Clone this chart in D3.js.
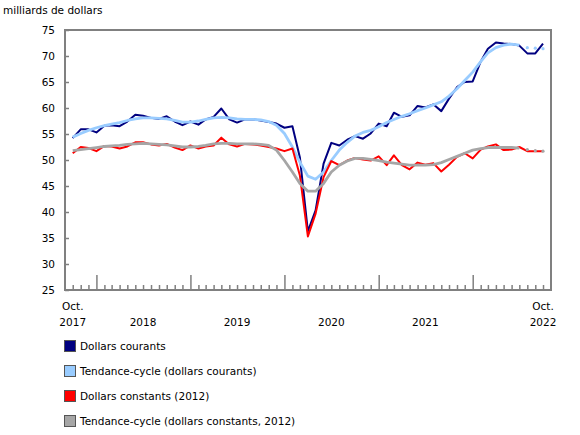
<!DOCTYPE html>
<html>
<head>
<meta charset="utf-8">
<script src="https://cdn.jsdelivr.net/npm/d3@7"></script>
<style>
	body { margin: 0; background: #fff; }
	text { font-family: "DejaVu Sans", Verdana, sans-serif; font-size: 10.5px; fill: #000; }
</style>
</head>
<body>
<div id="chart"></div>
<script>
// monthly values, Oct. 2017 -> Oct. 2022 (billions of dollars)
const courants = [
	54.2, 55.9, 55.9, 55.3, 56.6, 56.7, 56.5, 57.4, 58.7, 58.5, 58.1, 57.9,
	58.4, 57.4, 56.7, 57.4, 56.8, 57.8, 58.3, 59.9, 57.8, 57.2, 57.8, 57.8,
	57.6, 57.3, 57.0, 56.2, 56.5, 50.5, 36.3, 40.3, 49.3, 53.3, 52.8, 53.9,
	54.6, 54.1, 55.1, 57.0, 56.5, 59.1, 58.3, 58.6, 60.4, 60.1, 60.7, 59.4,
	61.8, 64.0, 65.0, 65.1, 68.9, 71.4, 72.6, 72.4, 72.3, 72.0, 70.5, 70.5,
	72.4
]
const tendanceCourants = [
	54.4, 55.1, 55.7, 56.2, 56.6, 56.9, 57.2, 57.6, 57.9, 58.1, 58.1, 58.0,
	57.9, 57.6, 57.3, 57.3, 57.5, 57.8, 58.1, 58.2, 58.1, 57.9, 57.8, 57.8,
	57.7, 57.4, 56.7, 55.1, 52.5, 49.6, 46.9, 46.3, 47.7, 49.9, 51.9, 53.4,
	54.6, 55.3, 55.7, 56.4, 57.2, 57.8, 58.4, 58.9, 59.5, 60.0, 60.6, 61.2,
	62.3, 63.7, 65.3, 66.9, 68.9, 70.6, 71.6, 72.1, 72.3, 72.1, 71.6, 71.5,
	71.4
]
const constants = [
	51.3, 52.5, 52.3, 51.7, 52.7, 52.6, 52.2, 52.6, 53.4, 53.4, 53.0, 52.8,
	53.1, 52.4, 51.9, 52.8, 52.2, 52.6, 52.8, 54.3, 53.0, 52.6, 53.1, 53.0,
	52.8, 52.5, 52.2, 51.7, 52.2, 47.0, 35.3, 39.7, 46.7, 49.8, 49.0, 49.9,
	50.4, 50.1, 49.9, 50.7, 49.0, 50.9, 49.0, 48.2, 49.5, 49.1, 49.4, 47.8,
	49.1, 50.6, 51.3, 50.3, 52.0, 52.6, 53.0, 51.9, 52.0, 52.5, 51.7, 51.7,
	51.7
]
const tendanceConstants = [
	51.8, 52.0, 52.2, 52.4, 52.6, 52.7, 52.8, 53.0, 53.1, 53.2, 53.1, 53.0,
	52.9, 52.7, 52.5, 52.5, 52.6, 52.8, 53.1, 53.2, 53.2, 53.1, 53.1, 53.1,
	53.0, 52.8, 51.9, 49.9, 47.7, 45.5, 44.0, 44.0, 45.5, 47.7, 49.0, 49.8,
	50.3, 50.3, 50.1, 49.9, 49.6, 49.4, 49.2, 49.0, 49.0, 49.0, 49.1, 49.5,
	50.1, 50.7, 51.3, 51.9, 52.2, 52.4, 52.4, 52.4, 52.4, 52.3, 52.0, 51.8,
	51.7
]
const seriesNames = [
	"Dollars courants",
	"Tendance-cycle (dollars courants)",
	"Dollars constants (2012)",
	"Tendance-cycle (dollars constants, 2012)"
]
const seriesColors = ["#000080", "#99ccff", "#ff0000", "#a6a6a6"]
const trendTail = 3	// last trend months drawn dotted
const yTicks = [25, 30, 35, 40, 45, 50, 55, 60, 65, 70, 75]
const xLabels = [
	{date: "2017-10", lines: ["Oct.", "2017"]},
	{date: "2018-07", lines: ["2018"]},
	{date: "2019-07", lines: ["2019"]},
	{date: "2020-07", lines: ["2020"]},
	{date: "2021-07", lines: ["2021"]},
	{date: "2022-10", lines: ["Oct.", "2022"]}
]
const unitLabel = "milliards de dollars"

let dims = {width: 580, height: 435, left: 65, right: 551, top: 30, bottom: 290}
let parseMonth = d3.timeParse("%Y-%m")
let months = d3.timeMonth.range(new Date(2017, 9, 1), new Date(2022, 10, 1))

let svg = d3.select("#chart").append("svg")
	.attr("width", dims.width)
	.attr("height", dims.height)

let xScale = d3.scaleTime()
	.domain([new Date(2017, 8, 1), new Date(2022, 10, 1)])
	.range([dims.left, dims.right])
let yScale = d3.scaleLinear().domain([25, 75]).range([dims.bottom, dims.top])

svg.append("text").attr("x", 3).attr("y", 14).text(unitLabel)

// y axis (ticks inward)
let yAxis = svg.append("g")
	.attr("transform", `translate(${dims.left},0)`)
	.call(d3.axisLeft(yScale).tickValues(yTicks).tickSizeInner(-4).tickSizeOuter(0).tickPadding(10))
yAxis.select(".domain").remove()
yAxis.selectAll("line").attr("stroke", "#808080").attr("stroke-width", 1.5)
yAxis.selectAll("text").style("font-family", null).style("font-size", null).attr("fill", "#000")

// x axis: minor ticks every month, longer at January
let xMinor = svg.append("g")
	.attr("transform", `translate(0,${dims.bottom})`)
	.call(d3.axisBottom(xScale).tickValues(months.filter(d => d.getMonth() != 0)).tickSizeInner(-5).tickSizeOuter(0).tickFormat(""))
let xMajor = svg.append("g")
	.attr("transform", `translate(0,${dims.bottom})`)
	.call(d3.axisBottom(xScale).tickValues(months.filter(d => d.getMonth() == 0)).tickSizeInner(-15).tickSizeOuter(0).tickFormat(""))
svg.selectAll(".domain").remove()
svg.selectAll("g line").attr("stroke", "#808080").attr("stroke-width", 1.5)

let lbl = svg.append("g").selectAll("text")
	.data(xLabels)
	.enter()
		.append("text")
		.attr("text-anchor", "middle")
		.attr("transform", d => `translate(${xScale(parseMonth(d.date))},${d.lines.length > 1 ? 310 : 326})`)
lbl.selectAll("tspan")
	.data(d => d.lines)
	.enter()
		.append("tspan")
		.attr("x", 0)
		.attr("dy", (d, i) => i ? 16 : 0)
		.text(d => d)

// frame
svg.append("path")
	.attr("d", `M${dims.left},${dims.top}H${dims.right}V${dims.bottom}H${dims.left}Z`)
	.attr("fill", "none")
	.attr("stroke", "#808080")
	.attr("stroke-width", 2)

let line = d3.line()
	.x((d, i) => xScale(months[i]))
	.y(d => yScale(d))

function drawSeries(values, color, width) {
	svg.append("path")
		.datum(values)
		.attr("d", line)
		.attr("fill", "none")
		.attr("stroke", color)
		.attr("stroke-width", width)
		.attr("stroke-linejoin", "round")
}

function drawTrend(values, color) {
	let cut = values.length - trendTail
	let solid = values.map((v, i) => i < cut ? v : null)
	svg.append("path")
		.datum(solid)
		.attr("d", line.defined(d => d != null))
		.attr("fill", "none")
		.attr("stroke", color)
		.attr("stroke-width", 2.8)
		.attr("stroke-linejoin", "round")
	line.defined(() => true)
	svg.append("g").selectAll("circle")
		.data(values.map((v, i) => ({v, i})).filter(d => d.i >= cut))
		.enter()
			.append("circle")
			.attr("cx", d => xScale(months[d.i]))
			.attr("cy", d => yScale(d.v))
			.attr("r", 1.6)
			.attr("fill", color)
}

drawSeries(courants, seriesColors[0], 2)
drawTrend(tendanceCourants, seriesColors[1])
drawSeries(constants, seriesColors[2], 2)
drawTrend(tendanceConstants, seriesColors[3])

// legend
let legend = svg.append("g")
	.selectAll("g")
	.data(seriesNames)
	.enter()
		.append("g")
		.attr("transform", (d, i) => `translate(64,${340 + i * 25})`)
legend.append("rect")
	.attr("x", 0.5).attr("y", 0.5)
	.attr("width", 11).attr("height", 11)
	.attr("fill", (d, i) => seriesColors[i])
	.attr("stroke", "#555")
legend.append("text")
	.attr("x", 16)
	.attr("y", 10)
	.text(d => d)
</script>
</body>
</html>
